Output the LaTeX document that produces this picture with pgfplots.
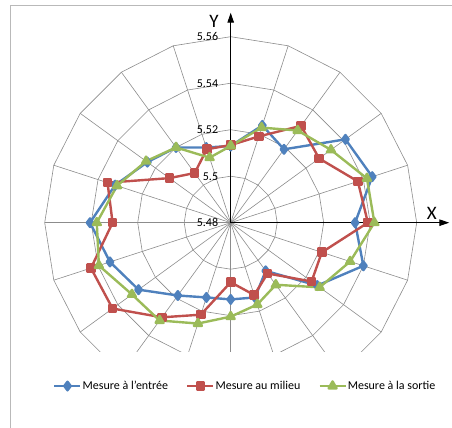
\documentclass[border=0pt]{standalone}
\usepackage{pgfplots}
\pgfplotsset{compat=1.18}
\usepackage{pgfplotstable}
\usepackage{fontspec}
\setmainfont{Carlito}
\usetikzlibrary{arrows.meta}
\definecolor{sblue}{RGB}{79,129,189}
\definecolor{sred}{RGB}{192,80,77}
\definecolor{sgreen}{RGB}{155,187,89}
\definecolor{gridc}{RGB}{140,140,140}
\definecolor{framec}{RGB}{185,185,185}

% angle (deg, clockwise from top), entrée, milieu, sortie
\pgfplotstableread{
a B R G
90 5.513 5.5134 5.513
72 5.524 5.519 5.523
54 5.519 5.5315 5.529
36 5.541 5.527 5.5333
18 5.544 5.5375 5.5416
0 5.5335 5.539 5.5418
-18 5.540 5.5212 5.534
-36 5.526 5.523 5.5273
-54 5.5056 5.507 5.513
-72 5.5138 5.5127 5.517
-90 5.513 5.5056 5.5204
-108 5.5138 5.5216 5.5256
-126 5.5187 5.5303 5.532
-144 5.529 5.5428 5.5325
-162 5.5346 5.5432 5.5396
-180 5.5405 5.5308 5.5376
-198 5.5323 5.5357 5.5314
-216 5.5243 5.5126 5.525
-234 5.520 5.5064 5.520
-252 5.514 5.5132 5.5094
-270 5.513 5.5134 5.513
}\data

\begin{document}
\begin{tikzpicture}
\path[use as bounding box] (0,0) rectangle (452bp,428bp);
% frame
\draw[framec, line width=1bp] (10bp,0bp) -- (10bp,422bp) -- (452bp,422bp);
% polygon grid
\begin{scope}
\clip (0bp,76bp) rectangle (452bp,428bp);
\begin{scope}[shift={(230.7bp,205.3bp)}, x=46.5bp, y=46.5bp]
\foreach \r in {1,2,3,4}{
  \draw[gridc, line width=0.6bp] (0:\r) \foreach \t in {18,36,...,342}{ -- (\t:\r)} -- cycle;
}
\foreach \t in {0,18,...,342}{
  \draw[gridc, line width=0.6bp] (0,0) -- (\t:4);
}
\end{scope}
\end{scope}
% axes arrows
\draw[black, line width=0.9bp, -{Triangle[length=10bp,width=6.5bp]}] (230.7bp,205.3bp) -- (230.7bp,415.3bp);
\draw[black, line width=0.9bp, -{Triangle[length=10bp,width=6.5bp]}] (230.7bp,205.3bp) -- (449.3bp,205.3bp);
\node[font=\fontsize{19bp}{22bp}\selectfont, inner sep=0pt] at (214bp,407bp) {Y};
\node[font=\fontsize{19bp}{22bp}\selectfont, inner sep=0pt] at (431.7bp,214.3bp) {X};
% radial labels
\foreach \k/\lab in {0/5.48,1/5.5,2/5.52,3/5.54,4/5.56}{
  \node[anchor=east, inner sep=0pt, font=\fontsize{12bp}{14bp}\selectfont] at (218.3bp,{205.3bp+\k*46.5bp}) {\lab};
}
\begin{axis}[
  at={(230.7bp,205.3bp)}, anchor=origin,
  scale only axis, width=452bp, height=428bp,
  xmin=-4.961, xmax=4.759, ymin=-4.415, ymax=4.789,
  hide axis, clip=false,
  legend columns=3,
  legend style={at={(axis cs:-3.815,-3.512)}, anchor=west, draw=none, fill=none,
    inner sep=0pt, outer sep=0pt,
    font=\fontsize{12bp}{14bp}\selectfont,
    nodes={inner sep=0pt},
    /tikz/every odd column/.append style={column sep=1bp},
    /tikz/every even column/.append style={column sep=18bp}},
  legend image code/.code={\draw[mark repeat=2,mark phase=2] plot coordinates {(0bp,0bp)(13bp,0bp)(26bp,0bp)};},
]
\addplot[sblue, line width=2.4bp, line join=round, mark=diamond*, mark size=4.3bp, mark options={solid}]
  table[x expr={(\thisrow{B}-5.48)*50*cos(\thisrow{a})}, y expr={(\thisrow{B}-5.48)*50*sin(\thisrow{a})}] \data;
\addlegendentry{Mesure à l'entrée}
\addplot[sred, line width=2.4bp, line join=round, mark=square*, mark size=3.6bp, mark options={solid}]
  table[x expr={(\thisrow{R}-5.48)*50*cos(\thisrow{a})}, y expr={(\thisrow{R}-5.48)*50*sin(\thisrow{a})}] \data;
\addlegendentry{Mesure au milieu}
\addplot[sgreen, line width=2.4bp, line join=round, mark=triangle*, mark size=4.6bp, mark options={solid}]
  table[x expr={(\thisrow{G}-5.48)*50*cos(\thisrow{a})}, y expr={(\thisrow{G}-5.48)*50*sin(\thisrow{a})}] \data;
\addlegendentry{Mesure à la sortie}
\end{axis}
\end{tikzpicture}
\end{document}
